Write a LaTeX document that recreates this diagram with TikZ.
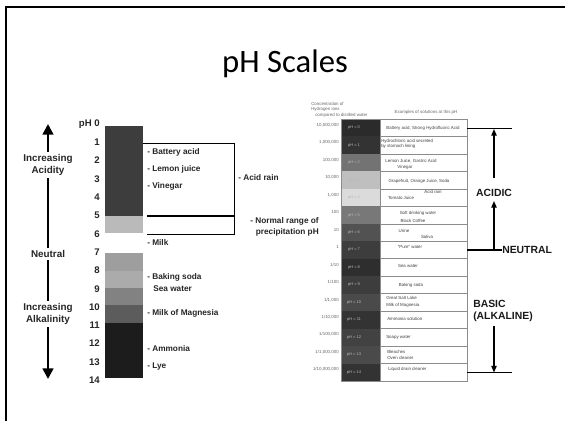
\documentclass[tikz,border=0pt]{standalone}
\usepackage{fontspec}
\setmainfont{Liberation Sans}
\newfontfamily\titlefont{Carlito}
\usetikzlibrary{arrows.meta}
\begin{document}
\begin{tikzpicture}[x=0.75pt,y=-0.75pt,
  lab/.style={anchor=west,inner sep=0pt,font=\fontsize{6.2}{7.5}\selectfont\bfseries,text=black!85},
  side/.style={inner sep=1.5pt,align=center,font=\fontsize{7.4}{9.6}\selectfont\bfseries,text=black!85},
  num/.style={anchor=east,inner sep=0pt,font=\fontsize{7.2}{8}\selectfont\bfseries,text=black!85},
  tiny/.style={inner sep=0pt,font=\fontsize{3.3}{4}\selectfont,text=black!75},
  tinyl/.style={tiny,anchor=west},
  conc/.style={tiny,anchor=east,text=black!60},
  phl/.style={inner sep=0pt,font=\fontsize{3}{4}\selectfont,text=white!72!black},
  big/.style={inner sep=0pt,font=\fontsize{7.8}{9.4}\selectfont\bfseries,align=left,text=black!90},
  gridline/.style={draw=black!45,line width=0.4pt},
  leftarrow/.style={line width=1.8pt},
  rightarrow/.style={line width=1pt},
]
\useasboundingbox (0,0) rectangle (565,421);
\clip (0,0) rectangle (565,421);
\fill[white] (0,0) rectangle (565,421);
% frame
\draw[line width=1.5pt] (6,440) -- (6,7) -- (590,7);
% title
\node[font=\titlefont\fontsize{24.5}{28}\selectfont] (title) at (285,64) {pH Scales};

% ---------- left scale ----------
\foreach \ya/\yb/\c in {126/216/76, 216/233/27, 253/271/38, 271/288/33, 288/305/49, 305/323/64, 323/378/89}
  \fill[black!\c] (105,\ya) rectangle (143,\yb);
\node[num] (n0) at (100,124) {pH 0};
\foreach \i in {1,...,14}
  \node[num] (n\i) at (100,{124+18.3*\i}) {\i};

\node[lab] (l1) at (147,152) {- Battery acid};
\node[lab] (l2) at (147,169) {- Lemon juice};
\node[lab] (l3) at (147,186) {- Vinegar};
\node[lab] (l4) at (147,243) {- Milk};
\node[lab] (l5) at (147,277) {- Baking soda};
\node[lab] (l6) at (153,289) {Sea water};
\node[lab] (l7) at (147,313) {- Milk of Magnesia};
\node[lab] (l8) at (147,349) {- Ammonia};
\node[lab] (l9) at (147,367) {- Lye};

\coordinate (b1) at (143,143);
\coordinate (b2) at (234,143);
\coordinate (b3) at (234,234);
\coordinate (b4) at (147,234);
\coordinate (b5) at (147,216);
\coordinate (b6) at (234,216);
\draw[line width=0.7pt] (b1) -- (b2) -- (b3) -- (b4);
\draw[line width=1.6pt] (b5) -- (b6);
\node[lab] (acidrain) at (238,178) {- Acid rain};
\node[lab,anchor=east,align=right,font=\fontsize{6.2}{8.2}\selectfont\bfseries] (normal) at (319,226.5) {- Normal range of\\precipitation pH};

\node[side] (inc1) at (48,165) {Increasing\\Acidity};
\node[side] (neut) at (48,254) {Neutral};
\node[side] (inc2) at (48,314) {Increasing\\Alkalinity};
\coordinate (ltop) at (48,124);
\coordinate (lbot) at (48,379);
\draw[leftarrow,-{Triangle[width=8pt,length=8pt]}] (inc1.north) -- (ltop);
\draw[leftarrow] (inc1.south) -- (neut.north);
\draw[leftarrow] (neut.south) -- (inc2.north);
\draw[leftarrow,-{Triangle[width=8pt,length=8pt]}] (inc2.south) -- (lbot);

% ---------- right table ----------
\node[tinyl,text=black!60] (h1) at (311,104) {Concentration of};
\node[tinyl,text=black!60] (h2) at (311,109.5) {Hydrogen ions};
\node[tinyl,text=black!60] (h3) at (315,115) {compared to distilled water};
\node[tiny,text=black!60] (h4) at (426,112) {Examples of solutions at this pH};

\foreach \i/\c in {0/83,1/80,2/55,3/25,4/14,5/53,6/68,7/76,8/82,9/76,10/71,11/80,12/74,13/71,14/80} {
  \fill[black!\c] (341,{119+17.47*\i}) rectangle (380,{119+17.47*(\i+1)});
  \draw[gridline] (380,{119+17.47*\i}) rectangle (467,{119+17.47*(\i+1)});
  \node[phl] (p\i) at (354,{119+17.47*\i+8.7}) {pH = \i};
}
\draw[gridline] (341,119) rectangle (380,381.05);
\foreach \i/\v in {0/{10,000,000},1/{1,000,000},2/{100,000},3/{10,000},4/{1,000},5/{100},6/{10},7/{1},8/{1/10},9/{1/100},10/{1/1,000},11/{1/10,000},12/{1/100,000},13/{1/1,000,000},14/{1/10,000,000}}
  \node[conc] (c\i) at (339,{119+17.47*\i+6}) {\v};

\node[tiny] (t0) at (423,128) {Battery acid, Strong Hydrofluoric Acid};
\node[tinyl] (t1a) at (381,141) {Hydrochloric acid secreted};
\node[tinyl] (t1b) at (381,146) {by stomach lining};
\node[tiny] (t2a) at (411,161) {Lemon Juice, Gastric Acid};
\node[tiny] (t2b) at (405,167) {Vinegar};
\node[tiny] (t3) at (419,181.5) {Grapefruit, Orange Juice, Soda};
\node[tiny] (t4a) at (433,192) {Acid rain};
\node[tiny] (t4b) at (401,198) {Tomato Juice};
\node[tiny] (t5a) at (418,213.5) {Soft drinking water};
\node[tiny] (t5b) at (413,221) {Black Coffee};
\node[tiny] (t6a) at (404,231) {Urine};
\node[tiny] (t6b) at (427,236.5) {Saliva};
\node[tiny] (t7) at (410,247) {``Pure'' water};
\node[tiny] (t8) at (408,266) {Sea water};
\node[tiny] (t9) at (411,285) {Baking soda};
\node[tinyl] (t10a) at (386,298) {Great Salt Lake};
\node[tinyl] (t10b) at (386,305) {Milk of Magnesia};
\node[tinyl] (t11) at (387,319) {Ammonia solution};
\node[tinyl] (t12) at (386,337) {Soapy water};
\node[tinyl] (t13a) at (387,351.5) {Bleaches};
\node[tinyl] (t13b) at (387,357.5) {Oven cleaner};
\node[tinyl] (t14) at (388,369) {Liquid drain cleaner};

% ---------- right brackets ----------
\coordinate (r0a) at (467,128.7);
\coordinate (r0b) at (512,128.7);
\coordinate (r7a) at (467,250);
\coordinate (r14a) at (467,372.5);
\coordinate (r14b) at (512,372.5);
\draw[rightarrow] (r0a) -- (r0b);
\draw[rightarrow] (r14a) -- (r14b);
\node[big,anchor=west] (neutral) at (502,250) {NEUTRAL};
\draw[rightarrow] (r7a) -- (neutral.west);
\node[big] (acidic) at (494,193) {ACIDIC};
\node[big,anchor=west] (basic) at (473,311) {BASIC\\(ALKALINE)};
\coordinate (a1) at (494,129);
\coordinate (a2) at (494,178);
\coordinate (a3) at (494,250);
\coordinate (a4) at (494,201);
\coordinate (a5) at (494,326);
\coordinate (a6) at (494,372.5);
\draw[rightarrow,-{Triangle[width=4pt,length=5pt]}] (a2) -- (a1);
\draw[rightarrow,-{Triangle[width=4pt,length=5pt]}] (a3) -- (a4);
\draw[rightarrow,-{Triangle[width=4pt,length=5pt]}] (a5) -- (a6);
\end{tikzpicture}
\end{document}
